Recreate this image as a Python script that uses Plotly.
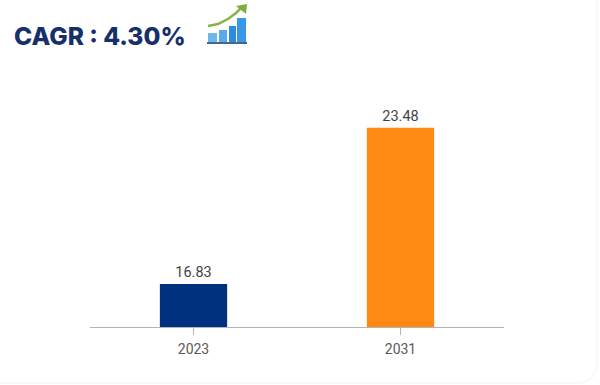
import plotly.graph_objects as go

categories = ["2023", "2031"]
values = [16.83, 23.48]
value_labels = ["16.83", "23.48"]
bar_colors = ["#00317f", "#ff8a12"]
title_text = "CAGR : 4.30%"

W, H = 600, 385
L, R, T, B = 90, 96, 92, 58


def px(x):
    return (x - L) / (W - L - R)


def py(y):
    return (H - B - y) / (H - T - B)


def rect(x0, y0, x1, y1, color):
    return dict(type="rect", xref="paper", yref="paper", layer="above",
                x0=px(x0), x1=px(x1), y0=py(y0), y1=py(y1),
                fillcolor=color, line=dict(width=0))


def poly(points, color, width=0, fill=None):
    d = "M " + " L ".join(f"{px(a):.5f},{py(b):.5f}" for a, b in points)
    if fill:
        d += " Z"
    return dict(type="path", xref="paper", yref="paper", layer="above", path=d,
                fillcolor=fill if fill else "rgba(0,0,0,0)",
                line=dict(color=color, width=width))


shapes = [
    # icon: bars, base and rising arrow
    rect(208, 33, 217, 42, "#6db6ee"),
    rect(219, 30, 227, 42, "#58a8ea"),
    rect(229, 26, 236, 42, "#2f8be0"),
    rect(237, 18, 246, 42, "#3a96e6"),
    rect(207, 42, 247, 44, "#44688c"),
    poly([(208, 26), (218, 24), (228, 19), (236, 13), (241, 8)], "#8db04a", 2.5),
    poly([(236, 6), (247, 4), (246, 14)], "#7fae3a", 0, "#7fae3a"),
    # faint card edge, bottom right corner
    dict(type="path", xref="paper", yref="paper", layer="below",
         path=f"M {px(597):.5f},{py(0):.5f} L {px(597):.5f},{py(362):.5f} "
              f"Q {px(597):.5f},{py(383):.5f} {px(576):.5f},{py(383):.5f} "
              f"L {px(0):.5f},{py(383):.5f}",
         line=dict(color="#f8f8f8", width=1.5)),
]

fig = go.Figure(
    go.Bar(
        x=categories,
        y=values,
        width=0.325,
        marker=dict(color=bar_colors, line=dict(width=0)),
        text=value_labels,
        textposition="outside",
        cliponaxis=False,
        textfont=dict(family="Roboto", size=14.5, color="#444444"),
    )
)

fig.update_layout(
    width=W,
    height=H,
    margin=dict(l=L, r=R, t=T, b=B, pad=0),
    paper_bgcolor="#ffffff",
    plot_bgcolor="#ffffff",
    showlegend=False,
    shapes=shapes,
    annotations=[
        dict(text=title_text, xref="paper", yref="paper",
             x=px(12), y=py(36), xanchor="left", yanchor="middle", showarrow=False,
             font=dict(family="Inter", size=24.5, weight=800, color="#15306b")),
    ],
)
fig.update_xaxes(
    type="category",
    showgrid=False,
    showline=True,
    linecolor="#b4b4b8",
    linewidth=1,
    ticks="outside",
    ticklen=7,
    tickcolor="#b4b4b8",
    ticklabelstandoff=2,
    tickfont=dict(family="Roboto", size=14, color="#5a5a5a"),
)
fig.update_yaxes(range=[15, 25], visible=False, showgrid=False)

fig.write_html("out.html", config=dict(displayModeBar=False),
               post_script="document.body.style.margin='0';document.body.style.overflow='hidden';")
